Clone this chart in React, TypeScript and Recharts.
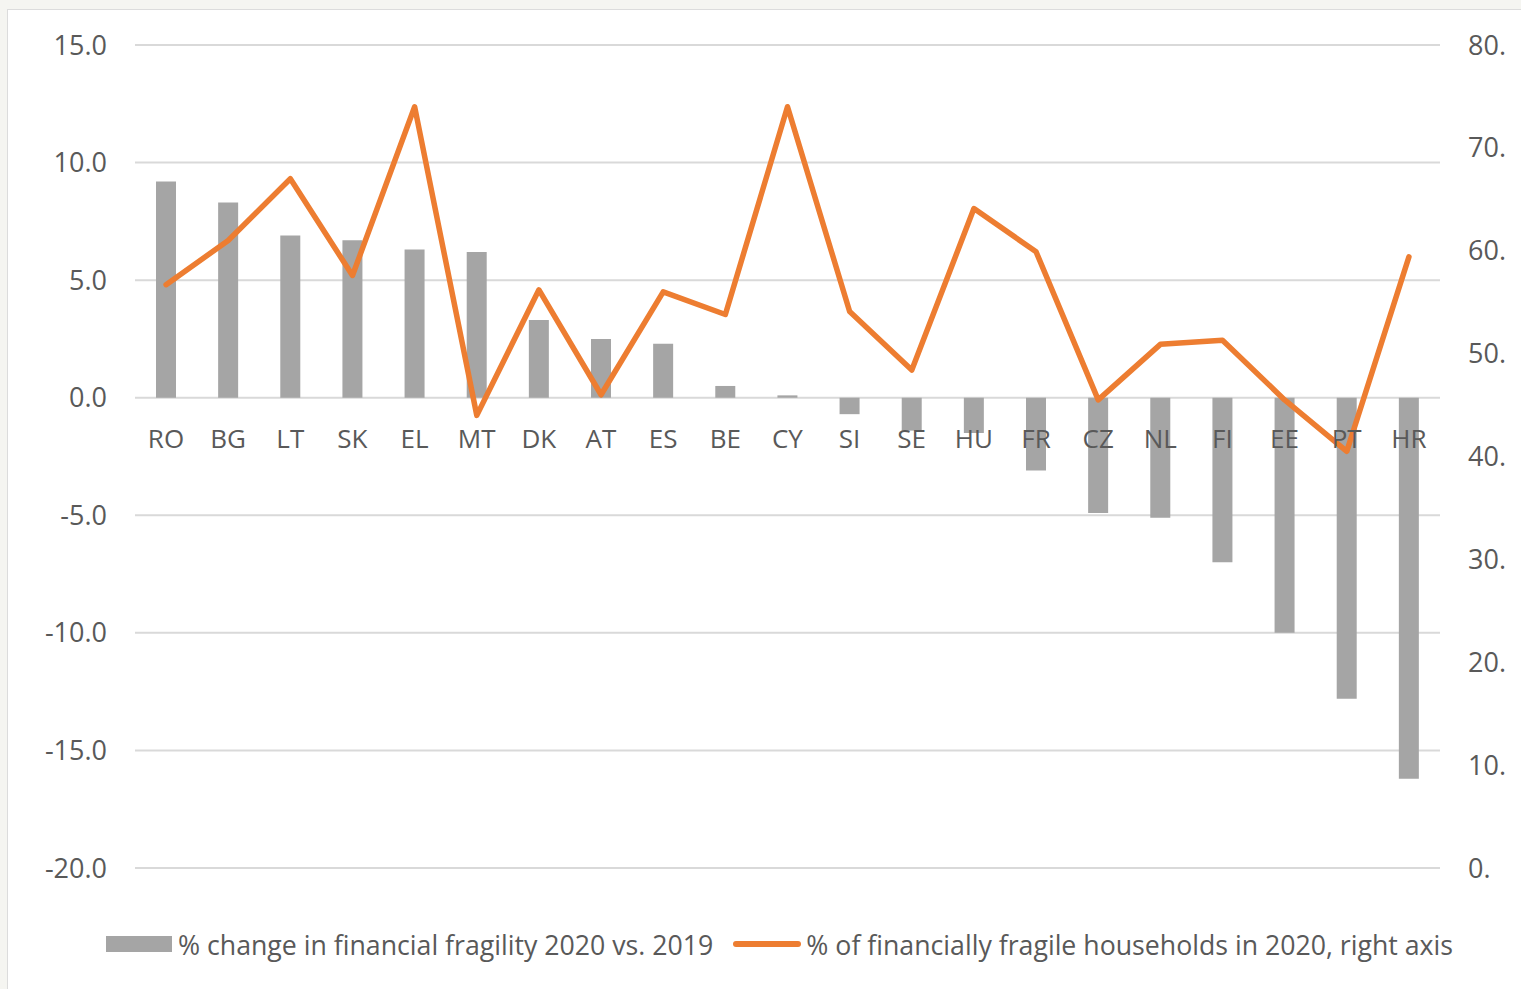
import React from 'react';
import { ComposedChart, Bar, Line, XAxis, YAxis, CartesianGrid, LabelList, Legend } from 'recharts';

const countries = ['RO', 'BG', 'LT', 'SK', 'EL', 'MT', 'DK', 'AT', 'ES', 'BE', 'CY', 'SI', 'SE', 'HU', 'FR', 'CZ', 'NL', 'FI', 'EE', 'PT', 'HR'];
const changeValues = [9.2, 8.3, 6.9, 6.7, 6.3, 6.2, 3.3, 2.5, 2.3, 0.5, 0.1, -0.7, -1.4, -1.5, -3.1, -4.9, -5.1, -7.0, -10.0, -12.8, -16.2];
const fragileShare = [56.7, 61.0, 67.0, 57.6, 74.0, 44.0, 56.2, 46.0, 56.0, 53.8, 74.0, 54.1, 48.4, 64.1, 59.9, 45.5, 50.9, 51.3, 45.5, 40.5, 59.4];
const leftTicks = [-20, -15, -10, -5, 0, 5, 10, 15];
const rightTicks = [0, 10, 20, 30, 40, 50, 60, 70, 80];
const barName = '% change in financial fragility 2020 vs. 2019';
const lineName = '% of financially fragile households in 2020, right axis';

const data = countries.map((c, i) => ({ country: c, change: changeValues[i], share: fragileShare[i] }));

const FONT = '"Open Sans", sans-serif';
const TEXT = '#595959';

const CountryLabel = (props: any) => {
  const vb = props.viewBox || props;
  const x = Number(vb.x);
  const y = Number(vb.y);
  const w = Number(vb.width);
  const h = Number(vb.height);
  const idx = props.index;
  const v = changeValues[idx] ?? 0;
  const base = v >= 0 ? Math.max(y, y + h) : Math.min(y, y + h);
  return (
    <text x={x + w / 2} y={base + 40} textAnchor="middle" dominantBaseline="central" fill={TEXT} fontSize={26} fontFamily={FONT}>
      {props.value}
    </text>
  );
};

const LegendContent = () => (
  <div style={{ display: 'flex', alignItems: 'center', height: 36, paddingLeft: 106, fontFamily: FONT, fontSize: 26.7, color: TEXT, whiteSpace: 'nowrap' }}>
    <span style={{ display: 'inline-block', width: 66, height: 16, background: '#A5A5A5' }} />
    <span style={{ marginLeft: 6 }}>{barName}</span>
    <span style={{ display: 'inline-block', marginLeft: 20, width: 68, height: 6, borderRadius: 3, background: '#ED7D31' }} />
    <span style={{ marginLeft: 5 }}>{lineName}</span>
  </div>
);

export default function App() {
  return (
    <div style={{ position: 'fixed', left: 0, top: 0, width: 1521, height: 989, background: '#F5F5F1', overflow: 'hidden' }}>
      <div style={{ position: 'absolute', left: 7, top: 9, width: 1530, height: 1000, background: '#FFFFFF', border: '1px solid #DCDCDC' }} />
      <div style={{ position: 'absolute', left: 0, top: 0 }}>
        <ComposedChart width={1521} height={989} data={data} margin={{ top: 45, right: 0, bottom: 85, left: 0 }}>
          <CartesianGrid yAxisId="left" vertical={false} stroke="#D9D9D9" strokeWidth={2} />
          <XAxis dataKey="country" hide />
          <YAxis
            yAxisId="left"
            orientation="left"
            width={135}
            domain={[-20, 15]}
            ticks={leftTicks}
            tickFormatter={(v: number) => v.toFixed(1)}
            axisLine={false}
            tickLine={false}
            tickSize={0}
            tickMargin={28}
            tick={{ fill: TEXT, fontSize: 27, fontFamily: FONT }}
          />
          <YAxis
            yAxisId="right"
            orientation="right"
            width={81}
            domain={[0, 80]}
            ticks={rightTicks}
            tickFormatter={(v: number) => `${v}.`}
            axisLine={false}
            tickLine={false}
            tickSize={0}
            tickMargin={28}
            tick={{ fill: TEXT, fontSize: 27, fontFamily: FONT }}
          />
          <Bar yAxisId="left" dataKey="change" name={barName} fill="#A5A5A5" barSize={20} isAnimationActive={false}>
            <LabelList dataKey="country" content={CountryLabel} />
          </Bar>
          <Line
            yAxisId="right"
            type="linear"
            dataKey="share"
            name={lineName}
            stroke="#ED7D31"
            strokeWidth={5.5}
            strokeLinejoin="round"
            strokeLinecap="round"
            dot={false}
            activeDot={false}
            isAnimationActive={false}
          />
          <Legend content={LegendContent} wrapperStyle={{ left: 0, top: 926, bottom: 'auto', width: 1521, height: 36 }} />
        </ComposedChart>
      </div>
    </div>
  );
}
